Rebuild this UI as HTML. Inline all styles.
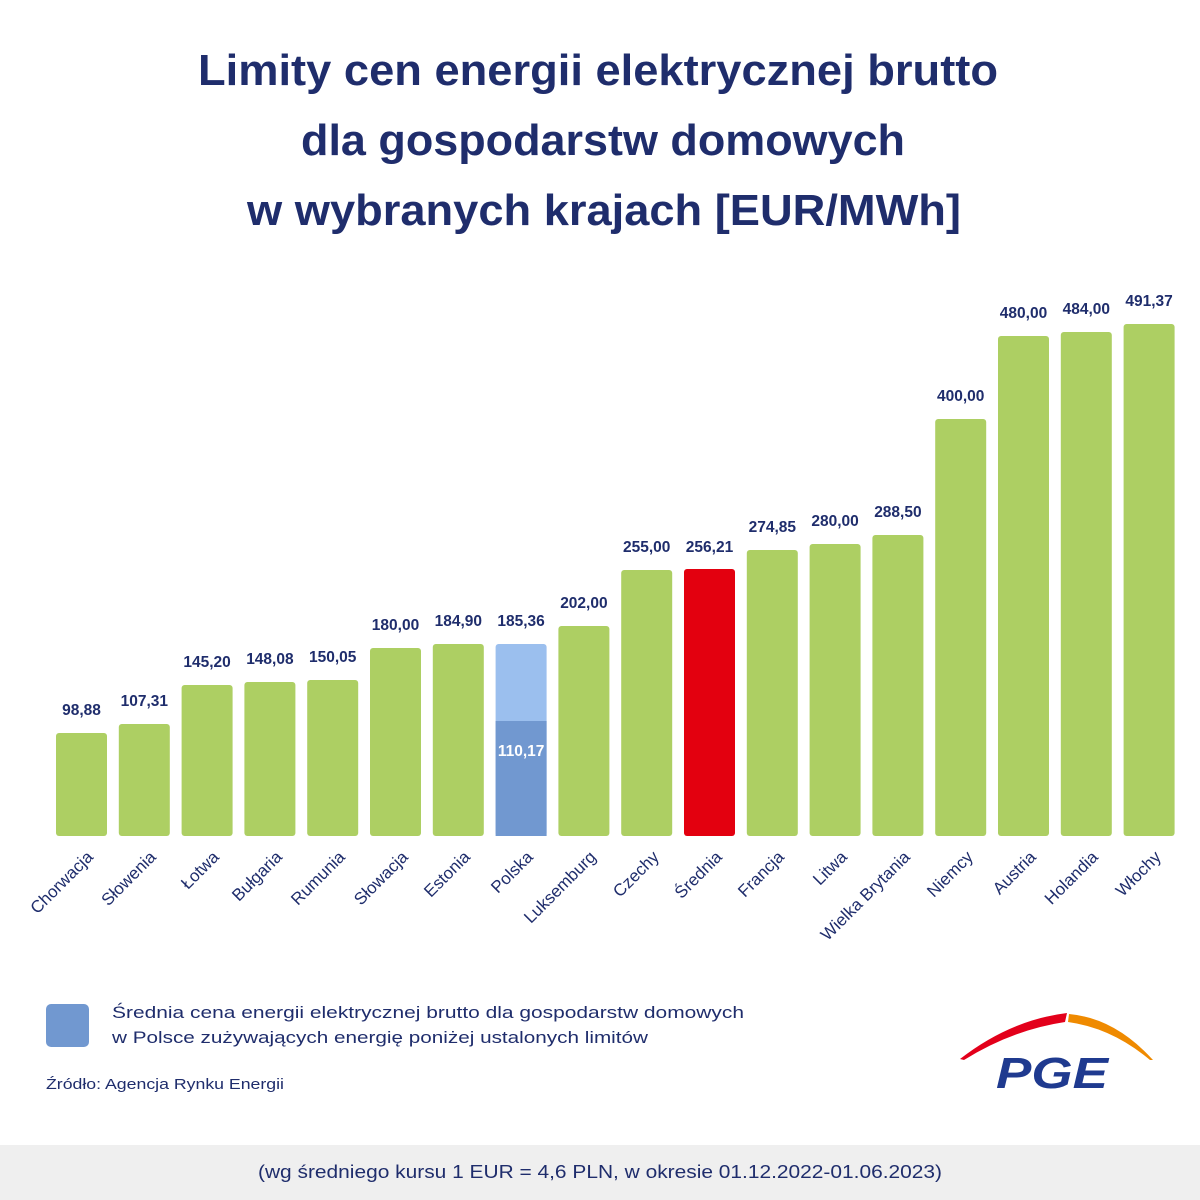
<!DOCTYPE html>
<html><head><meta charset="utf-8"><style>
html,body{margin:0;padding:0;background:#fff;}
svg{display:block;font-family:"Liberation Sans",sans-serif;}
</style></head><body>
<svg width="1200" height="1200" viewBox="0 0 1200 1200" xmlns="http://www.w3.org/2000/svg">
<rect width="1200" height="1200" fill="#fff"/>
<g fill="#1f2d6c" font-weight="bold" font-size="44" text-anchor="middle">
<text x="598" y="85" textLength="800" lengthAdjust="spacingAndGlyphs">Limity cen energii elektrycznej brutto</text>
<text x="603" y="155" textLength="604" lengthAdjust="spacingAndGlyphs">dla gospodarstw domowych</text>
<text x="604" y="225" textLength="714" lengthAdjust="spacingAndGlyphs">w wybranych krajach [EUR/MWh]</text>
</g>
<g fill="#adcf63">
<rect x="56" y="733" width="51" height="103" rx="3"/>
<rect x="118.8" y="724" width="51" height="112" rx="3"/>
<rect x="181.6" y="685" width="51" height="151" rx="3"/>
<rect x="244.4" y="682" width="51" height="154" rx="3"/>
<rect x="307.2" y="680" width="51" height="156" rx="3"/>
<rect x="370" y="648" width="51" height="188" rx="3"/>
<rect x="432.8" y="644" width="51" height="192" rx="3"/>
<rect x="558.4" y="626" width="51" height="210" rx="3"/>
<rect x="621.2" y="570" width="51" height="266" rx="3"/>
<rect x="746.8" y="550" width="51" height="286" rx="3"/>
<rect x="809.6" y="544" width="51" height="292" rx="3"/>
<rect x="872.4" y="535" width="51" height="301" rx="3"/>
<rect x="935.2" y="419" width="51" height="417" rx="3"/>
<rect x="998" y="336" width="51" height="500" rx="3"/>
<rect x="1060.8" y="332" width="51" height="504" rx="3"/>
<rect x="1123.6" y="324" width="51" height="512" rx="3"/>
</g>
<rect x="495.6" y="644" width="51" height="192" rx="3" fill="#9bbfee"/>
<rect x="495.6" y="721" width="51" height="115" fill="#7198d0"/>
<rect x="684" y="569" width="51" height="267" rx="3" fill="#e3000f"/>
<g fill="#1f2d6c" font-weight="bold" font-size="15.5" text-anchor="middle">
<text x="81.5" y="715">98,88</text>
<text x="144.3" y="706">107,31</text>
<text x="207.1" y="667">145,20</text>
<text x="269.9" y="664">148,08</text>
<text x="332.7" y="662">150,05</text>
<text x="395.5" y="630">180,00</text>
<text x="458.3" y="626">184,90</text>
<text x="521.1" y="626">185,36</text>
<text x="583.9" y="608">202,00</text>
<text x="646.7" y="552">255,00</text>
<text x="709.5" y="552">256,21</text>
<text x="772.3" y="532">274,85</text>
<text x="835.1" y="526">280,00</text>
<text x="897.9" y="517">288,50</text>
<text x="960.7" y="401">400,00</text>
<text x="1023.5" y="318">480,00</text>
<text x="1086.3" y="314">484,00</text>
<text x="1149.1" y="306">491,37</text>
<text x="521.1" y="756" fill="#fff">110,17</text>
</g>
<g fill="#1f2d6c" font-size="17" text-anchor="end">
<text transform="translate(94,858) rotate(-45)">Chorwacja</text>
<text transform="translate(157,858) rotate(-45)">Słowenia</text>
<text transform="translate(220,858) rotate(-45)">Łotwa</text>
<text transform="translate(283,858) rotate(-45)">Bułgaria</text>
<text transform="translate(346,858) rotate(-45)">Rumunia</text>
<text transform="translate(409,858) rotate(-45)">Słowacja</text>
<text transform="translate(471,858) rotate(-45)">Estonia</text>
<text transform="translate(534,858) rotate(-45)">Polska</text>
<text transform="translate(597,858) rotate(-45)">Luksemburg</text>
<text transform="translate(660,858) rotate(-45)">Czechy</text>
<text transform="translate(723,858) rotate(-45)">Średnia</text>
<text transform="translate(785,858) rotate(-45)">Francja</text>
<text transform="translate(848,858) rotate(-45)">Litwa</text>
<text transform="translate(911,858) rotate(-45)">Wielka Brytania</text>
<text transform="translate(974,858) rotate(-45)">Niemcy</text>
<text transform="translate(1037,858) rotate(-45)">Austria</text>
<text transform="translate(1099,858) rotate(-45)">Holandia</text>
<text transform="translate(1162,858) rotate(-45)">Włochy</text>
</g>
<rect x="46" y="1004" width="43" height="43" rx="5" fill="#7198d0"/>
<g fill="#1f2d6c" font-size="17">
<text x="112" y="1018" textLength="632" lengthAdjust="spacingAndGlyphs">Średnia cena energii elektrycznej brutto dla gospodarstw domowych</text>
<text x="112" y="1043" textLength="536" lengthAdjust="spacingAndGlyphs">w Polsce zużywających energię poniżej ustalonych limitów</text>
</g>
<text x="46" y="1089" fill="#1f2d6c" font-size="15" textLength="238" lengthAdjust="spacingAndGlyphs">Źródło: Agencja Rynku Energii</text>
<path d="M960 1059 Q1010 1020 1067 1013 L1065 1022 Q1012 1030 964 1060 Z" fill="#e3001b"/>
<path d="M1069 1014 Q1115 1018 1153 1060 L1150 1060 Q1112 1028 1068 1022 Z" fill="#ef8a00"/>
<text x="1052" y="1088" fill="#1f3a8f" font-size="44" font-weight="bold" font-style="italic" text-anchor="middle" textLength="112" lengthAdjust="spacingAndGlyphs">PGE</text>
<rect x="0" y="1145" width="1200" height="55" fill="#efefef"/>
<text x="600" y="1178" fill="#1f2d6c" font-size="18" text-anchor="middle" textLength="684" lengthAdjust="spacingAndGlyphs">(wg średniego kursu 1 EUR = 4,6 PLN, w okresie 01.12.2022-01.06.2023)</text>
</svg>
</body></html>
